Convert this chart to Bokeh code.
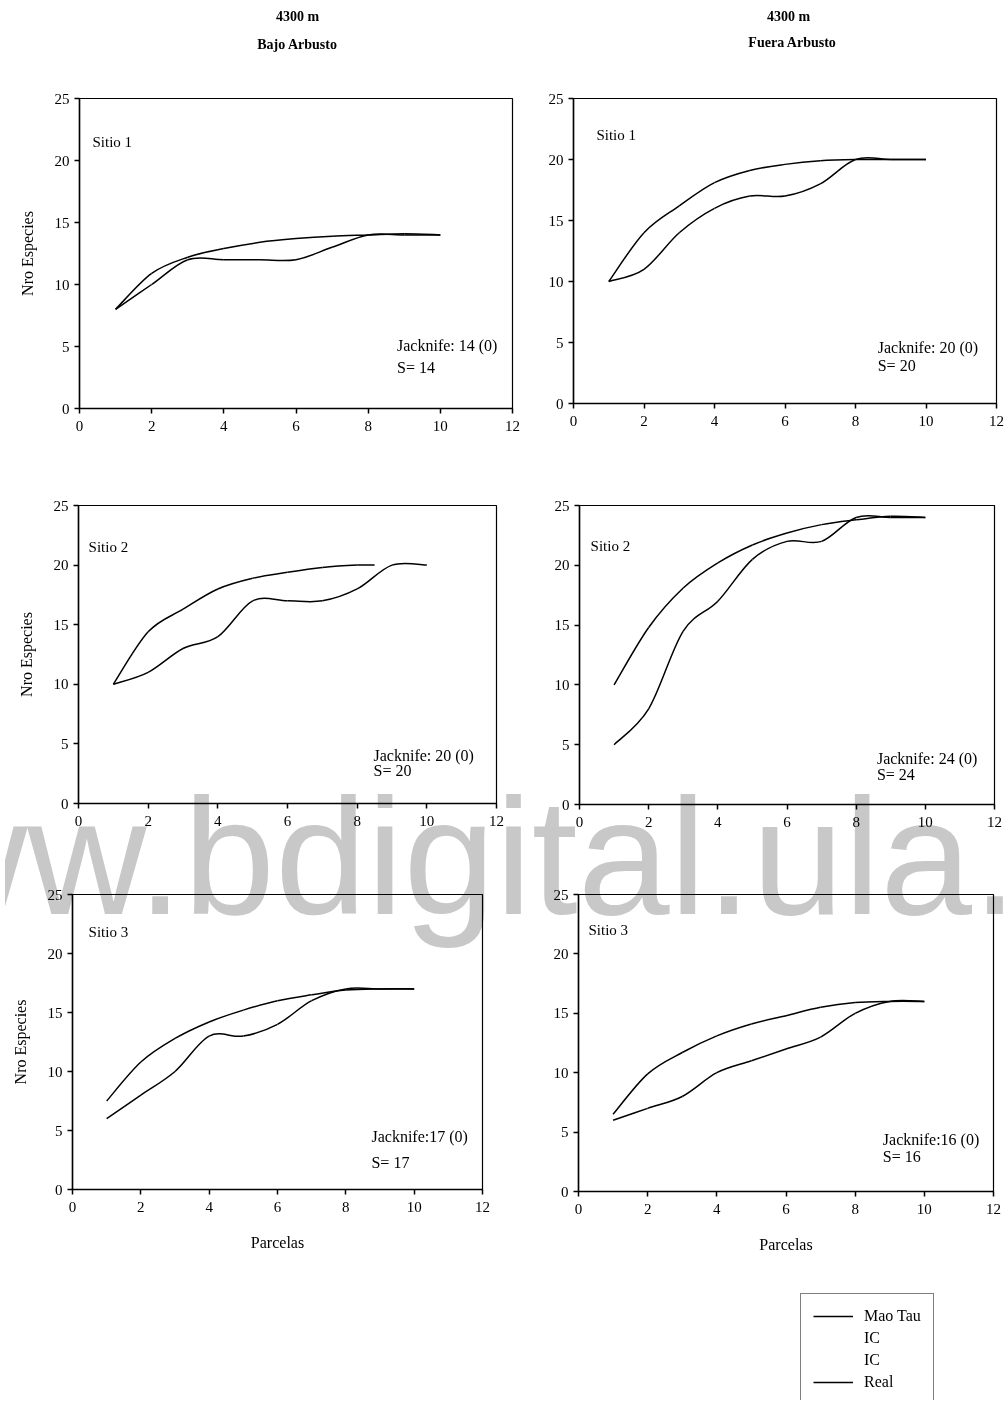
from bokeh.plotting import figure
from bokeh.models import Range1d, FixedTicker, Label, Legend, LegendItem, ColumnDataSource, Div
from bokeh.layouts import column, row
from bokeh.embed import file_html
from bokeh.resources import INLINE

# ---------------- data ----------------
parcelas = [1, 2, 3, 4, 5, 6, 7, 8, 9, 10]
x_ticks = [0, 2, 4, 6, 8, 10, 12]
y_ticks = [0, 5, 10, 15, 20, 25]

# Bajo Arbusto, Sitio 1
mao_bajo_s1 = [8, 10.9, 12.2, 12.9, 13.4, 13.7, 13.9, 14.0, 14.1, 14.0]
real_bajo_s1 = [8, 10, 12, 12, 12, 12, 13, 14, 14, 14]
# Fuera Arbusto, Sitio 1
mao_fuera_s1 = [10, 14, 16.2, 18.1, 19.1, 19.6, 19.9, 20.0, 20.0, 20.0]
real_fuera_s1 = [10, 11, 14, 16, 17, 17, 18, 20, 20, 20]
# Bajo Arbusto, Sitio 2 (upper curve stops at about 8.5 in the figure)
parcelas_mao_bajo_s2 = [1, 2, 3, 4, 5, 6, 7, 8, 8.5]
mao_bajo_s2 = [10, 14.4, 16.3, 18.0, 18.9, 19.4, 19.8, 20.0, 20.0]
real_bajo_s2 = [10, 11, 13, 14, 17, 17, 17, 18, 20, 20]
# Fuera Arbusto, Sitio 2
mao_fuera_s2 = [10, 14.8, 18.1, 20.2, 21.7, 22.7, 23.4, 23.8, 24.1, 24.0]
real_fuera_s2 = [5, 8, 14.5, 17, 20.5, 22, 22, 24, 24, 24]
# Bajo Arbusto, Sitio 3
mao_bajo_s3 = [7.5, 10.8, 12.8, 14.2, 15.2, 16.0, 16.5, 16.9, 17.0, 17.0]
real_bajo_s3 = [6, 8, 10, 13, 13, 14, 16, 17, 17, 17]
# Fuera Arbusto, Sitio 3
mao_fuera_s3 = [6.5, 9.9, 11.7, 13.1, 14.1, 14.8, 15.5, 15.9, 16.0, 16.0]
real_fuera_s3 = [6, 7, 8, 10, 11, 12, 13, 15, 16, 16]

sitios = ["Sitio 1", "Sitio 1", "Sitio 2", "Sitio 2", "Sitio 3", "Sitio 3"]
jacknife = ["Jacknife: 14 (0)", "Jacknife: 20 (0)", "Jacknife: 20 (0)",
            "Jacknife: 24 (0)", "Jacknife:17 (0)", "Jacknife:16 (0)"]
s_obs = ["S= 14", "S= 20", "S= 20", "S= 24", "S= 17", "S= 16"]
col_titles = [("4300 m", "Bajo Arbusto"), ("4300 m", "Fuera Arbusto")]
legend_labels = ["Mao Tau", "IC", "IC", "Real"]
watermark = "www.bdigital.ula."

# ---------------- layout geometry (page pixels) ----------------
SERIF = "Liberation Serif"
PAGE_L, PAGE_R = 0, 1004
HEADER_TOP, HEADER_BOT = 0, 68
rows_y = [(68, 470), (470, 850), (850, 1280)]
LEG_TOP, LEG_BOT = 1280, 1400
split_x = [532, 516, 502]
# frame boxes: (left, right, top, bottom)
frames = [
    (79, 512, 97, 407), (573, 996, 98, 403),
    (78, 496, 505, 803), (579, 994, 504, 803),
    (72, 482, 894, 1189), (578, 993, 892, 1189),
]
text_pos = [  # (sitio x, y), (jack x, y), S y
    ((0.36, 21.5), (8.8, 5.05), 3.3),
    ((0.65, 22.0), (8.63, 4.6), 3.1),
    ((0.29, 21.5), (8.47, 4.0), 2.8),
    ((0.32, 21.6), (8.6, 3.85), 2.5),
    ((0.47, 21.8), (8.75, 4.5), 2.3),
    ((0.29, 22.05), (8.8, 4.4), 2.95),
]

series = [
    (parcelas, mao_bajo_s1, parcelas, real_bajo_s1),
    (parcelas, mao_fuera_s1, parcelas, real_fuera_s1),
    (parcelas_mao_bajo_s2, mao_bajo_s2, parcelas, real_bajo_s2),
    (parcelas, mao_fuera_s2, parcelas, real_fuera_s2),
    (parcelas, mao_bajo_s3, parcelas, real_bajo_s3),
    (parcelas, mao_fuera_s3, parcelas, real_fuera_s3),
]


def smooth_source(xs, ys):
    """Bezier segments through the data points (like a spreadsheet 'smoothed line')."""
    n = len(xs)
    d = dict(x0=[], y0=[], x1=[], y1=[], cx0=[], cy0=[], cx1=[], cy1=[])
    for i in range(n - 1):
        i0, i3 = max(i - 1, 0), min(i + 2, n - 1)
        d["x0"].append(xs[i]); d["y0"].append(ys[i])
        d["x1"].append(xs[i + 1]); d["y1"].append(ys[i + 1])
        d["cx0"].append(xs[i] + (xs[i + 1] - xs[i0]) / 6.0)
        d["cy0"].append(ys[i] + (ys[i + 1] - ys[i0]) / 6.0)
        d["cx1"].append(xs[i + 1] - (xs[i3] - xs[i]) / 6.0)
        d["cy1"].append(ys[i + 1] - (ys[i3] - ys[i]) / 6.0)
    return ColumnDataSource(d)


def make_panel(k):
    L, R, T, B = frames[k]
    r = k // 2
    left_col = (k % 2 == 0)
    row_top, row_bot = rows_y[r]
    if left_col:
        bl, br = L - PAGE_L, split_x[r] - R
    else:
        bl, br = L - split_x[r], PAGE_R - R
    p = figure(frame_width=R - L, frame_height=B - T,
               min_border_left=bl, min_border_right=br,
               min_border_top=T - row_top, min_border_bottom=row_bot - B,
               x_range=Range1d(0, 12), y_range=Range1d(0, 25),
               output_backend="svg", toolbar_location=None)
    p.xgrid.visible = False
    p.ygrid.visible = False
    p.background_fill_color = "white"
    p.border_fill_color = "white"
    p.outline_line_color = "black"
    p.outline_line_width = 1.2
    p.xaxis.ticker = FixedTicker(ticks=x_ticks)
    p.yaxis.ticker = FixedTicker(ticks=y_ticks)
    for ax in (p.xaxis[0], p.yaxis[0]):
        ax.axis_line_color = "black"
        ax.axis_line_width = 1.5
        ax.major_tick_line_color = "black"
        ax.major_tick_line_width = 1.5
        ax.major_tick_in = 0
        ax.major_tick_out = 5
        ax.minor_tick_line_color = None
        ax.major_label_text_font = SERIF
        ax.major_label_text_font_size = "15px"
        ax.major_label_text_color = "black"
        ax.axis_label_text_font = SERIF
        ax.axis_label_text_font_size = "16px"
        ax.axis_label_text_font_style = "normal"
        ax.axis_label_text_color = "black"
    p.xaxis.major_label_standoff = 7
    p.yaxis.major_label_standoff = 5
    if left_col:
        p.yaxis.axis_label = "Nro Especies"
        p.yaxis.axis_label_standoff = 16
    if r == 2:
        p.xaxis.axis_label = "Parcelas"
        p.xaxis.axis_label_standoff = 19

    xm, ym, xr, yr = series[k]
    p.bezier(x0="x0", y0="y0", x1="x1", y1="y1", cx0="cx0", cy0="cy0", cx1="cx1", cy1="cy1",
             source=smooth_source(xm, ym), line_color="black", line_width=1.5)
    p.bezier(x0="x0", y0="y0", x1="x1", y1="y1", cx0="cx0", cy0="cy0", cx1="cx1", cy1="cy1",
             source=smooth_source(xr, yr), line_color="black", line_width=1.5)

    (sx, sy), (jx, jy), s_y = text_pos[k]
    for tx, ty, tt, fs in ((sx, sy, sitios[k], "15px"), (jx, jy, jacknife[k], "16px"),
                           (jx, s_y, s_obs[k], "16px")):
        p.add_layout(Label(x=tx, y=ty, text=tt, text_font=SERIF, text_font_size=fs,
                           text_color="black", text_align="left", text_baseline="middle"))
    return p


# header with column titles
header = figure(width=PAGE_R - PAGE_L, height=HEADER_BOT - HEADER_TOP,
                x_range=Range1d(PAGE_L, PAGE_R), y_range=Range1d(HEADER_BOT, HEADER_TOP),
                x_axis_type=None, y_axis_type=None, min_border=0,
                output_backend="svg", toolbar_location=None)
header.outline_line_color = None
header.xgrid.visible = False
header.ygrid.visible = False
title_pos = [((297, 16), (297, 44)), ((788, 16), (792, 42))]
for (t1, t2), ((x1, y1), (x2, y2)) in zip(col_titles, title_pos):
    for tx, ty, tt in ((x1, y1, t1), (x2, y2, t2)):
        header.add_layout(Label(x=tx, y=ty, text=tt, text_font=SERIF, text_font_size="14px",
                                text_font_style="bold", text_color="black",
                                text_align="center", text_baseline="middle"))

panels = [make_panel(k) for k in range(6)]

# legend strip
leg = figure(width=PAGE_R - PAGE_L, height=LEG_BOT - LEG_TOP,
             x_range=Range1d(PAGE_L, PAGE_R), y_range=Range1d(LEG_BOT, LEG_TOP),
             x_axis_type=None, y_axis_type=None, min_border=0,
             output_backend="svg", toolbar_location=None)
leg.outline_line_color = None
leg.xgrid.visible = False
leg.ygrid.visible = False
# proxy renderers (their single point lies outside this strip's ranges)
r_mao = leg.line(x=parcelas[:1], y=mao_fuera_s3[:1], line_color="black", line_width=1.5)
r_ic1 = leg.line(x=parcelas[:1], y=mao_fuera_s3[:1], line_color="black", line_alpha=0)
r_ic2 = leg.line(x=parcelas[:1], y=mao_fuera_s3[:1], line_color="black", line_alpha=0)
r_real = leg.line(x=parcelas[:1], y=real_fuera_s3[:1], line_color="black", line_width=1.5)
items = [LegendItem(label=lab, renderers=[rr])
         for lab, rr in zip(legend_labels, [r_mao, r_ic1, r_ic2, r_real])]
legend_h = 2 * 12 + 4 * 20 + 3 * 2
legend = Legend(items=items, location=(800 - PAGE_L, (LEG_BOT - LEG_TOP) - 15 - legend_h),
                padding=12, spacing=2, margin=0, label_height=20, glyph_height=20,
                glyph_width=40, label_standoff=11, label_text_font=SERIF,
                label_text_font_size="16px", label_text_color="black",
                border_line_color="black", border_line_width=1,
                background_fill_color="white", background_fill_alpha=1)
leg.add_layout(legend)

layout = column(header,
                row(panels[0], panels[1]),
                row(panels[2], panels[3]),
                row(panels[4], panels[5]),
                leg)

# watermark of the scanned page: light grey, blended "under" the black ink
WM_TOP, WM_H, WM_SHIFT, WM_SIZE = 770, 180, -216, 165
wm_div = Div(
    text=('<div style="font-family:\'Liberation Sans\';font-size:%dpx;line-height:%dpx;'
          'color:#c8c8c8;white-space:nowrap;margin-left:%dpx;">%s</div>'
          % (WM_SIZE, WM_SIZE, WM_SHIFT, watermark)),
    width=PAGE_R - PAGE_L, height=WM_H,
    styles={"position": "absolute", "left": "0px", "top": "%dpx" % WM_TOP,
            "overflow": "hidden", "pointer-events": "none",
            "mix-blend-mode": "multiply", "z-index": "10"})

open("out.html", "w").write(file_html([layout, wm_div], INLINE))
